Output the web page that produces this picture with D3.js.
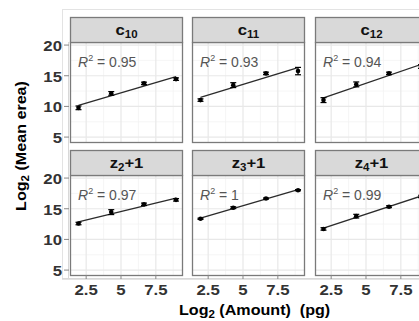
<!DOCTYPE html>
<html>
<head>
<meta charset="utf-8">
<script src="https://cdn.jsdelivr.net/npm/d3@7"></script>
<style>
  body { margin: 0; background: #fff; }
  svg { display: block; font-family: Arial, "Liberation Sans", sans-serif; }
  .tick-label { font-size: 14px; font-weight: bold; fill: #333; }
  .axis-title { font-size: 14px; font-weight: bold; fill: #000; white-space: pre; }
  .strip-text { font-size: 14.5px; font-weight: bold; fill: #111; }
  .r2 { font-size: 14px; fill: #555; }
</style>
</head>
<body>
<div id="d3-target"></div>
<script>
// panel names (base + subscript + suffix), in facet order
const panelBase = ['c', 'c', 'c', 'z', 'z', 'z'];
const panelSub = ['10', '11', '12', '2', '3', '4'];
const panelSuffix = ['', '', '', '+1', '+1', '+1'];
const r2Labels = ['0.95', '0.93', '0.94', '0.97', '1', '0.99'];

// log2 amount (pg)
const amounts = [1.95, 4.3, 6.65, 8.95];

// log2 mean area per panel, with error bar half-widths
const meanArea = [
  [9.77, 12.12, 13.75, 14.45],
  [11.03, 13.47, 15.38, 15.76],
  [11.03, 13.59, 15.38, 16.5],
  [12.59, 14.45, 15.72, 16.45],
  [13.36, 15.17, 16.66, 18.02],
  [11.71, 13.79, 15.33, 17.0]
];
const errors = [
  [0.3, 0.3, 0.2, 0.2],
  [0.2, 0.4, 0.2, 0.6],
  [0.4, 0.4, 0.2, 0.3],
  [0.2, 0.4, 0.2, 0.2],
  [0.1, 0.15, 0.1, 0.1],
  [0.2, 0.3, 0.15, 0.2]
];

const xTicks = [2.5, 5, 7.5];
const xMinor = [3.75, 6.25, 8.75];
const yTicks = [5, 10, 15, 20];
const yMinor = [7.5, 12.5, 17.5];

const width = 419, height = 321;
const colX = [70, 192, 315];
const panelW = 113;
const stripTop = [17, 150];
const plotTop = [42, 175];
const plotH = 100;
const stretch = 1.2; // text in the picture is a bit wide

const x = d3.scaleLinear().domain([1.34, 9.45]).range([0, panelW]);
const y = d3.scaleLinear().domain([4.2, 20.5]).range([plotH, 0]);

const svg = d3.select('#d3-target')
  .append('svg')
  .attr('width', width)
  .attr('height', height);

// faint outer frame + axis lines
svg.append('rect')
  .attr('x', 62.5).attr('y', 9.5)
  .attr('width', 400).attr('height', 270)
  .attr('fill', 'none').attr('stroke', '#e3e3e3');
svg.append('line')
  .attr('x1', 68.5).attr('x2', 68.5).attr('y1', 42).attr('y2', 279)
  .attr('stroke', '#d8d8d8');
svg.append('line')
  .attr('x1', 62).attr('x2', 419).attr('y1', 278.5).attr('y2', 278.5)
  .attr('stroke', '#d8d8d8');

const fit = function(xs, ys) {
  const mx = d3.mean(xs), my = d3.mean(ys);
  const sxy = d3.sum(xs, (v, i) => (v - mx) * (ys[i] - my));
  const sxx = d3.sum(xs, v => (v - mx) * (v - mx));
  const b = sxy / sxx;
  return {a: my - b * mx, b};
};

panelBase.forEach((base, p) => {
  const row = Math.floor(p / 3), col = p % 3;
  const left = colX[col];
  const g = svg.append('g')
    .attr('transform', `translate(${left},${plotTop[row]})`);

  // strip
  const sh = plotTop[row] - stripTop[row];
  svg.append('rect')
    .attr('x', left + 0.5).attr('y', stripTop[row] + 0.5)
    .attr('width', panelW - 1).attr('height', sh)
    .attr('fill', '#d9d9d9').attr('stroke', '#7a7a7a').attr('stroke-width', 1.3);
  const st = svg.append('text')
    .attr('class', 'strip-text')
    .attr('transform', `translate(${left + panelW / 2},${stripTop[row] + sh / 2 + 5.5}) scale(1.15,1)`)
    .attr('text-anchor', 'middle');
  st.append('tspan').text(base);
  st.append('tspan').attr('font-size', 10).attr('dy', 3).text(panelSub[p]);
  if (panelSuffix[p]) st.append('tspan').attr('dy', -3).text(panelSuffix[p]);

  // panel background + grid
  g.append('rect').attr('width', panelW).attr('height', plotH).attr('fill', '#fff');
  g.selectAll('.xminor').data(xMinor).enter().append('line')
    .attr('x1', d => x(d)).attr('x2', d => x(d)).attr('y1', 0).attr('y2', plotH)
    .attr('stroke', '#f2f2f2').attr('stroke-width', 0.7);
  g.selectAll('.yminor').data(yMinor).enter().append('line')
    .attr('y1', d => y(d)).attr('y2', d => y(d)).attr('x1', 0).attr('x2', panelW)
    .attr('stroke', '#f2f2f2').attr('stroke-width', 0.7);
  g.selectAll('.xmajor').data(xTicks).enter().append('line')
    .attr('x1', d => x(d)).attr('x2', d => x(d)).attr('y1', 0).attr('y2', plotH)
    .attr('stroke', '#e8e8e8').attr('stroke-width', 1.2);
  g.selectAll('.ymajor').data(yTicks).enter().append('line')
    .attr('y1', d => y(d)).attr('y2', d => y(d)).attr('x1', 0).attr('x2', panelW)
    .attr('stroke', '#e8e8e8').attr('stroke-width', 1.2);

  // R^2 label
  const rt = g.append('text').attr('class', 'r2')
    .attr('x', 8).attr('y', 25);
  rt.append('tspan').attr('font-style', 'italic').text('R');
  rt.append('tspan').attr('font-size', 9).attr('dy', -6).text('2');
  rt.append('tspan').attr('dy', 6).text(' = ' + r2Labels[p]);

  // fit line
  const ys = meanArea[p];
  const f = fit(amounts, ys);
  const ext = d3.extent(amounts);
  g.append('path')
    .datum(ext)
    .attr('d', d3.line().x(d => x(d)).y(d => y(f.a + f.b * d)))
    .attr('stroke', '#2b2b2b').attr('stroke-width', 1.4).attr('fill', 'none');

  // error bars + points
  const pts = amounts.map((a, i) => ({a, v: ys[i], e: errors[p][i]}));
  const eb = g.selectAll('.eb').data(pts).enter().append('g');
  eb.append('line')
    .attr('x1', d => x(d.a)).attr('x2', d => x(d.a))
    .attr('y1', d => y(d.v - d.e)).attr('y2', d => y(d.v + d.e))
    .attr('stroke', '#000').attr('stroke-width', 1.2);
  eb.append('line')
    .attr('x1', d => x(d.a) - 3).attr('x2', d => x(d.a) + 3)
    .attr('y1', d => y(d.v - d.e)).attr('y2', d => y(d.v - d.e))
    .attr('stroke', '#000').attr('stroke-width', 1.2);
  eb.append('line')
    .attr('x1', d => x(d.a) - 3).attr('x2', d => x(d.a) + 3)
    .attr('y1', d => y(d.v + d.e)).attr('y2', d => y(d.v + d.e))
    .attr('stroke', '#000').attr('stroke-width', 1.2);
  eb.append('circle')
    .attr('cx', d => x(d.a)).attr('cy', d => y(d.v)).attr('r', 2.3)
    .attr('fill', '#000');

  // panel border
  g.append('rect')
    .attr('x', 0.5).attr('y', 0.5).attr('width', panelW - 1).attr('height', plotH)
    .attr('fill', 'none').attr('stroke', '#7a7a7a').attr('stroke-width', 1.3);

  // y axis on first column
  if (col === 0) {
    g.selectAll('.yt').data(yTicks).enter().append('line')
      .attr('x1', -6).attr('x2', -1).attr('y1', d => y(d)).attr('y2', d => y(d))
      .attr('stroke', '#888');
    g.selectAll('.yl').data(yTicks).enter().append('text')
      .attr('class', 'tick-label')
      .attr('transform', d => `translate(-8,${y(d) + 6}) scale(${stretch},1)`)
      .attr('text-anchor', 'end')
      .text(d => d);
  }
  // x axis on bottom row
  if (row === 1) {
    g.selectAll('.xt').data(xTicks).enter().append('line')
      .attr('x1', d => x(d)).attr('x2', d => x(d)).attr('y1', plotH).attr('y2', plotH + 4)
      .attr('stroke', '#888');
    g.selectAll('.xl').data(xTicks).enter().append('text')
      .attr('class', 'tick-label')
      .attr('transform', d => `translate(${x(d)},${plotH + 19.5}) scale(${stretch},1)`)
      .attr('text-anchor', 'middle')
      .text(d => d);
  }
});

// axis titles
const xt = svg.append('text').attr('class', 'axis-title')
  .attr('transform', 'translate(179,315) scale(1.15,1)');
xt.append('tspan').text('Log');
xt.append('tspan').attr('font-size', 10).attr('dy', 3).text('2');
xt.append('tspan').attr('dy', -3).text(' (Amount)  (pg)');

const yt = svg.append('text').attr('class', 'axis-title')
  .attr('transform', 'translate(26,146) rotate(-90) scale(1.15,1)')
  .attr('text-anchor', 'middle');
yt.append('tspan').text('Log');
yt.append('tspan').attr('font-size', 10).attr('dy', 3).text('2');
yt.append('tspan').attr('dy', -3).text(' (Mean erea)');
</script>
</body>
</html>
